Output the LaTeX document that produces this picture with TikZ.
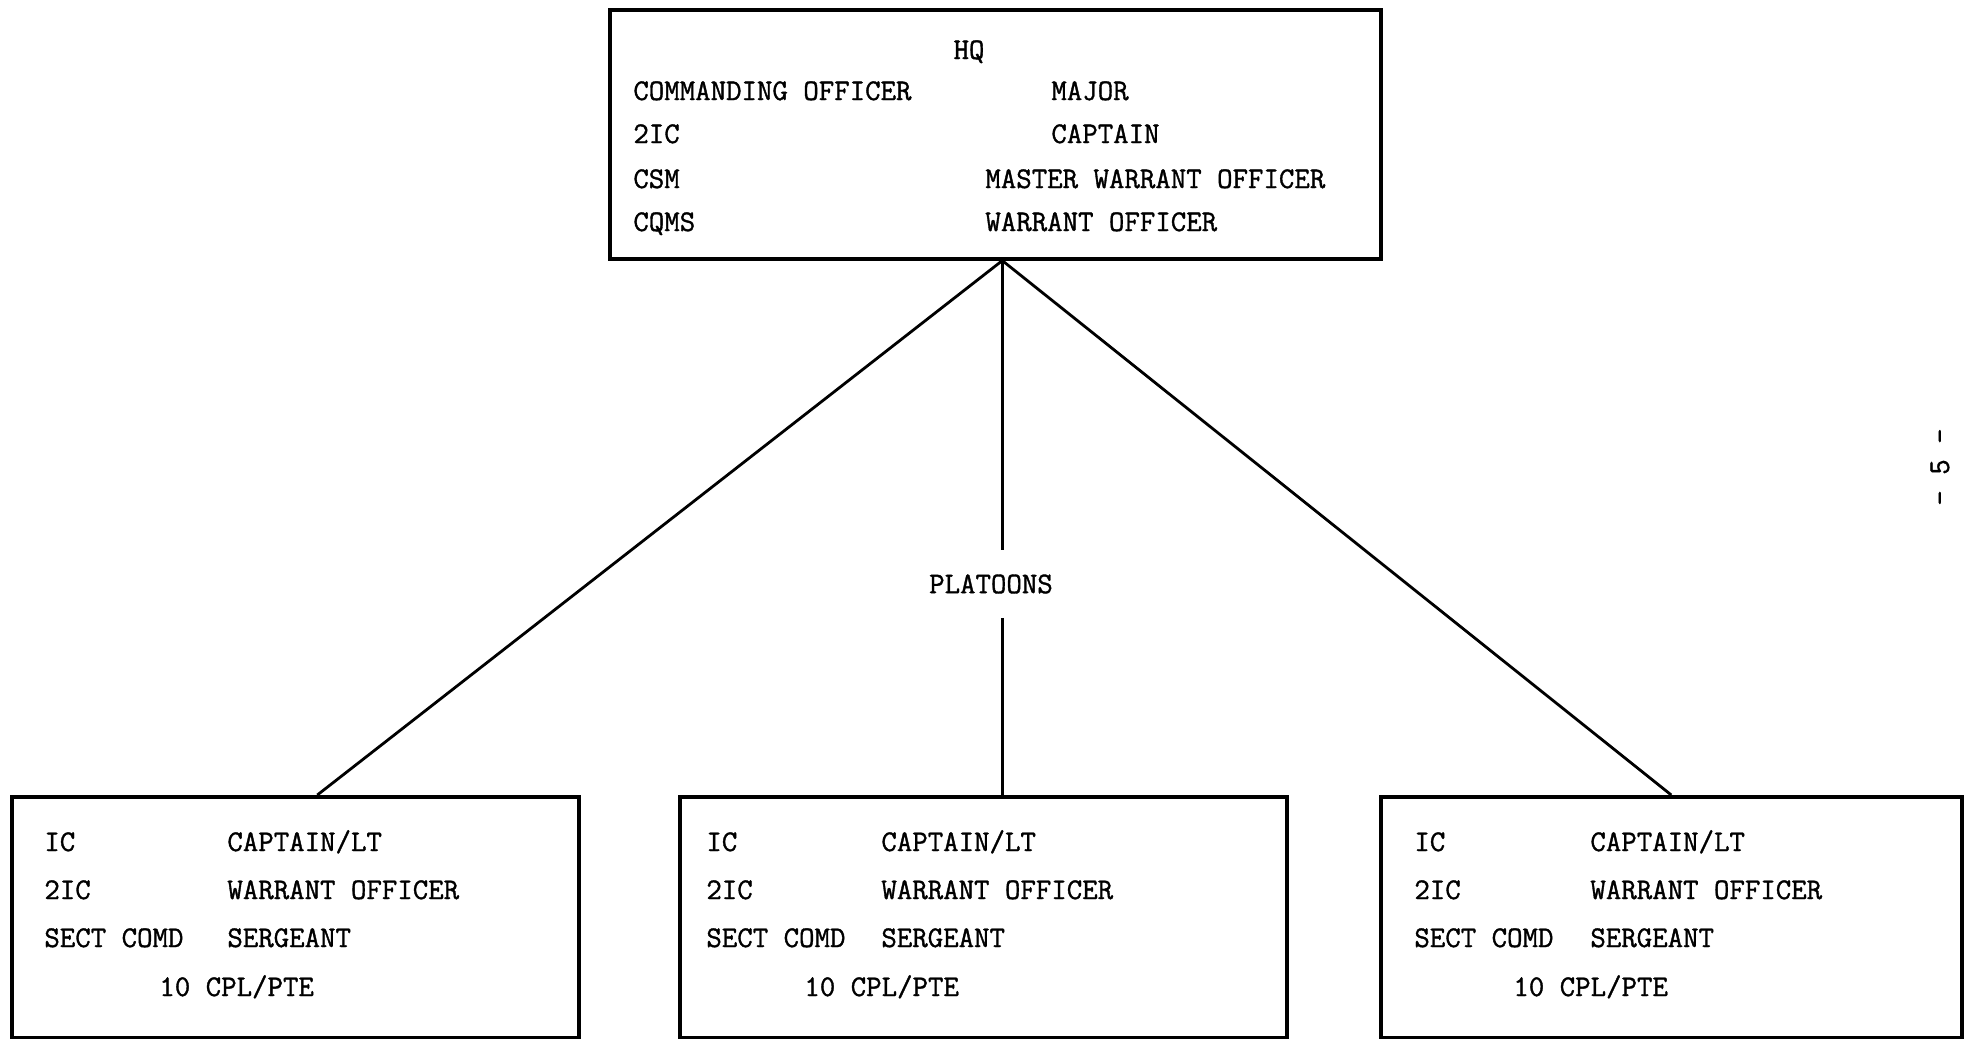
\documentclass[tikz,border=0pt]{standalone}
\usepackage{fontspec}
\newfontfamily\typer{Latin Modern Mono}[FakeBold=1.2]
\begin{document}
\begin{tikzpicture}
[x=0.5pt,y=-0.5pt,
 every node/.style={font=\typer\fontsize{15}{18}\selectfont},
 unit/.style={rectangle,draw=black,line width=1.8pt,anchor=north west,inner sep=0pt},
 lbl/.style={anchor=base west,inner sep=0pt},
 link/.style={line width=1.4pt}]
\useasboundingbox (0,0) rectangle (1966,1039);
% company headquarters
\node [unit,minimum width=385.5pt,minimum height=124.5pt] (hq) at (608,8) {};
\node [anchor=base,inner sep=0pt] (hq-name) at (969,59) {HQ};
\node [lbl] (co) at (633,100) {COMMANDING OFFICER};
\node [lbl] (co-rank) at (1051,100) {MAJOR};
\node [lbl] (ic2) at (633,143) {2IC};
\node [lbl] (ic2-rank) at (1051,143) {CAPTAIN};
\node [lbl] (csm) at (633,188) {CSM};
\node [lbl] (csm-rank) at (985,188) {MASTER WARRANT OFFICER};
\node [lbl] (cqms) at (633,231) {CQMS};
\node [lbl] (cqms-rank) at (985,231) {WARRANT OFFICER};
% the three platoons
\foreach \n/\x/\w/\a/\b/\c in
  {p1/10/283.5pt/44/227/159, p2/678/303.5pt/706/881/804, p3/1379/290.5pt/1414/1590/1513}
{
  \node [unit,minimum width=\w,minimum height=120.5pt] (\n) at (\x,795) {};
  \node [lbl] (\n-ic) at (\a,851) {IC};
  \node [lbl] (\n-icrank) at (\b,851) {CAPTAIN/LT};
  \node [lbl] (\n-2ic) at (\a,899) {2IC};
  \node [lbl] (\n-2icrank) at (\b,899) {WARRANT OFFICER};
  \node [lbl] (\n-sect) at (\a,947) {SECT COMD};
  \node [lbl] (\n-sectrank) at (\b,947) {SERGEANT};
  \node [lbl] (\n-men) at (\c,996) {10 CPL/PTE};
}
% connectors
\coordinate (apex) at ([xshift=3.5pt]hq.south);
\node [inner xsep=0pt,inner ysep=12pt] (plat) at (991,584) {PLATOONS};
\draw [link] (apex) -- ([xshift=11pt]p1.north);
\draw [link] (apex) -- (p3.north);
\draw [link] (apex) -- (apex |- plat.north);
\draw [link] (apex |- plat.south) -- (apex |- p2.north);
% page number
\node [rotate=90] (page) at (1940,467) {- 5 -};
\end{tikzpicture}
\end{document}
